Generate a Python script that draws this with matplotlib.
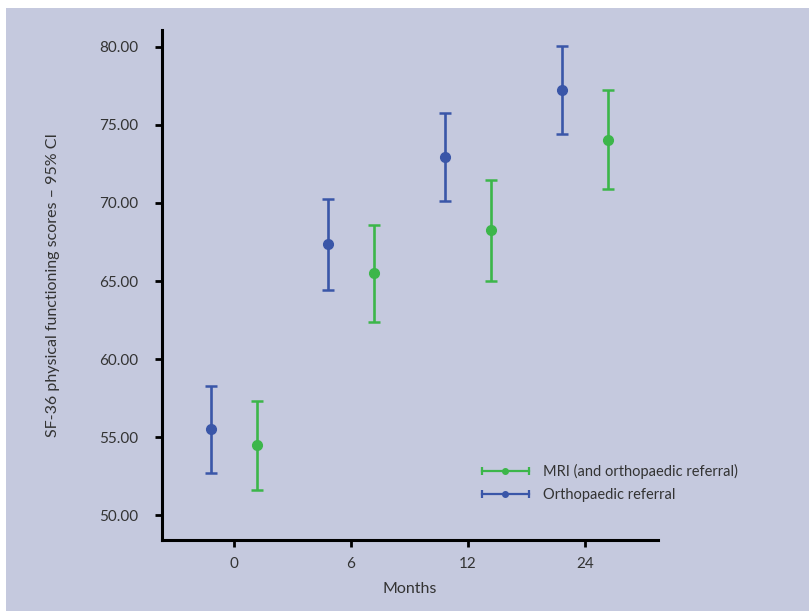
import matplotlib
matplotlib.use("Agg")
import matplotlib.pyplot as plt
from matplotlib.legend_handler import HandlerBase
from matplotlib.lines import Line2D
from matplotlib.patches import Rectangle
import numpy as np

# data
months = ['0', '6', '12', '24']
ortho_mean = [55.5, 67.35, 72.95, 77.2]
ortho_ci = [2.8, 2.9, 2.82, 2.82]
mri_mean = [54.5, 65.5, 68.25, 74.05]
mri_ci = [2.85, 3.1, 3.22, 3.15]

BLUE = '#3a56a8'
GREEN = '#3cb64a'
BG = '#c5c9de'
TXT = '#333333'


class CapHandler(HandlerBase):
    # horizontal errorbar look for legend entries
    def create_artists(self, legend, orig_handle, xdescent, ydescent,
                       width, height, fontsize, trans):
        c = orig_handle.get_color()
        y = height / 2 - ydescent
        x0, x1 = -xdescent, -xdescent + width
        line = Line2D([x0, x1], [y, y], color=c, lw=1.6)
        caps = Line2D([x0, x1], [y, y], ls='none', marker='|', ms=6, mew=1.6, color=c)
        dot = Line2D([(x0 + x1) / 2], [y], ls='none', marker='o', ms=4, color=c)
        for a in (line, caps, dot):
            a.set_transform(trans)
        return [line, caps, dot]


def main():
    plt.rcParams['font.family'] = ['Lato', 'DejaVu Sans']

    fig = plt.figure(figsize=(8.09, 6.11), dpi=100)
    fig.patch.set_facecolor('white')
    fig.patches.append(Rectangle((6 / 809, 0), 1, 1 - 8 / 611, transform=fig.transFigure,
                                 facecolor=BG, edgecolor='none', zorder=-10))

    ax = fig.add_axes([162 / 809, 71 / 611, 496 / 809, 510 / 611])
    ax.set_facecolor('none')

    x = np.arange(len(months))
    ax.errorbar(x - 0.2, ortho_mean, yerr=ortho_ci, fmt='o', color=BLUE, ms=7,
                elinewidth=1.9, capsize=4.3, capthick=1.8)
    ax.errorbar(x + 0.2, mri_mean, yerr=mri_ci, fmt='o', color=GREEN, ms=7,
                elinewidth=1.9, capsize=4.3, capthick=1.8)

    ax.set_xlim(-0.615, 3.624)
    ax.set_ylim(48.43, 81.06)
    ax.set_xticks(x)
    ax.set_xticklabels(months)
    ax.set_yticks(np.arange(50, 81, 5))
    ax.set_yticklabels(['%.2f' % v for v in np.arange(50, 81, 5)])

    for s in ['top', 'right']:
        ax.spines[s].set_visible(False)
    for s in ['left', 'bottom']:
        ax.spines[s].set_linewidth(2.2)
    ax.tick_params(axis='both', width=2, length=5, labelsize=11, labelcolor=TXT)
    ax.tick_params(axis='y', pad=12)
    ax.tick_params(axis='x', pad=7)

    ax.set_xlabel('Months', fontsize=11.5, color=TXT, labelpad=8.5)
    ax.set_ylabel('SF-36 physical functioning scores \u2013 95% CI', fontsize=11.5,
                  color=TXT, labelpad=28)

    h_mri = Line2D([], [], color=GREEN)
    h_ortho = Line2D([], [], color=BLUE)
    ax.legend([h_mri, h_ortho], ['MRI (and orthopaedic referral)', 'Orthopaedic referral'],
              handler_map={Line2D: CapHandler()}, loc='upper left',
              bbox_to_anchor=(0.645, 0.149), frameon=False, fontsize=10.5,
              handlelength=3.2, handletextpad=1.0, borderpad=0, borderaxespad=0,
              labelspacing=0.62, labelcolor=TXT)

    fig.savefig('out.png', dpi=100, facecolor=fig.get_facecolor())


if __name__ == '__main__':
    main()
